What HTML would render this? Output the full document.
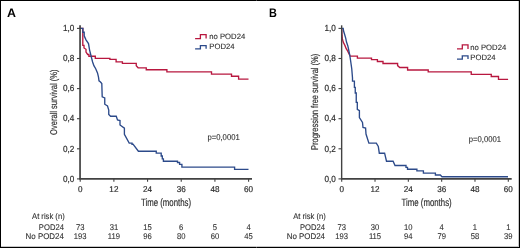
<!DOCTYPE html>
<html><head><meta charset="utf-8"><style>
html,body{margin:0;padding:0;background:#fff;}
body{width:520px;height:248px;overflow:hidden;}
svg{display:block;will-change:transform;}
text{font-family:"Liberation Sans",sans-serif;fill:#2e2e2e;text-rendering:geometricPrecision;stroke:#2e2e2e;stroke-width:0.1px;}
.b{stroke-width:0.18px;}
.m{stroke-width:0.2px;}
.L{font-weight:bold;fill:#000;stroke:none;}
</style></head><body>
<svg width="520" height="248" viewBox="0 0 520 248">
<rect x="0" y="0" width="520" height="248" fill="#fff"/>
<path d="M80.2 28.4 H82.8 V45.3 H84 V48 L86 49.3 V52.1 L87.7 54.5 H88.9 V56.2 H95.3 V58.4 H109.9 V59.4 H116.1 V61.9 H122.4 V63.3 H136.25 V65.8 L138.1 67.8 H146.25 V69.7 H166.9 V71.9 H211.5 V74.1 H231.5 V76.25 H238.6 V79.1 H248.5" fill="none" stroke="#b8173f" stroke-width="1.35"/>
<path d="M80.2 28.4 H82.9 V32.2 H84.2 V35.8 L86 39.8 L88.5 43.6 L89.6 50.1 L90.7 54.5 L92.6 62 L93.9 65.7 L95.7 68.7 L97.5 72.9 L98.5 77.2 L99 80.8 L100.5 82 L101.8 83.6 L102.2 96.75 L104.75 98 V104.25 L107.5 106 L108.75 110 V114.4 L110.6 116.25 H116.25 L117.5 120 L120 120.6 V125 L124.4 128.1 V134.4 L129.2 143.1 H132 V144.2 H133 L138.4 151.25 H156.25 V153.1 H161.2 V156 H162.3 V158.8 H163.4 V161.25 H177.5 V162.5 H179.6 V164.4 H181.9 V167.1 H234.6 V169.4 H248.5" fill="none" stroke="#2c4a8a" stroke-width="1.35"/>
<path d="M80.05 25.3 V178.95" fill="none" stroke="#424242" stroke-width="1.7"/>
<path d="M79.20 178.95 H252.00" fill="none" stroke="#424242" stroke-width="1.7"/>
<path d="M77.00 28.4 H80.2" stroke="#424242" stroke-width="1.1"/>
<path d="M77.00 58.5 H80.2" stroke="#424242" stroke-width="1.1"/>
<path d="M77.00 88.6 H80.2" stroke="#424242" stroke-width="1.1"/>
<path d="M77.00 118.7 H80.2" stroke="#424242" stroke-width="1.1"/>
<path d="M77.00 148.8 H80.2" stroke="#424242" stroke-width="1.1"/>
<path d="M77.00 178.9 H80.2" stroke="#424242" stroke-width="1.1"/>
<path d="M80.20 178.9 V181.8" stroke="#424242" stroke-width="1.1"/>
<path d="M113.88 178.9 V181.8" stroke="#424242" stroke-width="1.1"/>
<path d="M147.56 178.9 V181.8" stroke="#424242" stroke-width="1.1"/>
<path d="M181.24 178.9 V181.8" stroke="#424242" stroke-width="1.1"/>
<path d="M214.92 178.9 V181.8" stroke="#424242" stroke-width="1.1"/>
<path d="M248.60 178.9 V181.8" stroke="#424242" stroke-width="1.1"/>
<text transform="translate(74.30 31.15) scale(0.93 1)" font-size="8.8" text-anchor="end" class="m">1,0</text>
<text transform="translate(74.30 61.25) scale(0.93 1)" font-size="8.8" text-anchor="end" class="m">0,8</text>
<text transform="translate(74.30 91.35) scale(0.93 1)" font-size="8.8" text-anchor="end" class="m">0,6</text>
<text transform="translate(74.30 121.45) scale(0.93 1)" font-size="8.8" text-anchor="end" class="m">0,4</text>
<text transform="translate(74.30 151.55) scale(0.93 1)" font-size="8.8" text-anchor="end" class="m">0,2</text>
<text transform="translate(74.30 181.65) scale(0.93 1)" font-size="8.8" text-anchor="end" class="m">0,0</text>
<text transform="translate(80.20 192.10) scale(0.97 1)" font-size="8.4" text-anchor="middle" class="m">0</text>
<text transform="translate(113.88 192.10) scale(0.97 1)" font-size="8.4" text-anchor="middle" class="m">12</text>
<text transform="translate(147.56 192.10) scale(0.97 1)" font-size="8.4" text-anchor="middle" class="m">24</text>
<text transform="translate(181.24 192.10) scale(0.97 1)" font-size="8.4" text-anchor="middle" class="m">36</text>
<text transform="translate(214.92 192.10) scale(0.97 1)" font-size="8.4" text-anchor="middle" class="m">48</text>
<text transform="translate(248.60 192.10) scale(0.97 1)" font-size="8.4" text-anchor="middle" class="m">60</text>
<path d="M341.7 28.4 L342 35.7 L342.4 38.9 L343.2 42.1 L344.9 45.4 L346.2 48.7 L347.6 50.9 L349.8 55.3 L350.4 56.1 H357.4 V58.1 H371.5 V59.6 H377.4 V61.5 H383 V63.5 H397.6 V65.6 L399.75 67.5 H407.6 V70 H428.2 V71.9 H471.25 V74.4 H491.25 V76.5 H498.5 V79.4 H508.1" fill="none" stroke="#b8173f" stroke-width="1.35"/>
<path d="M341.7 28.4 H343.2 L343.5 30.8 L344.5 34 L345.7 38.1 L346.5 42.1 L347.7 45.4 L348.3 48 L349.8 55.3 L350.5 60 L351.75 68.75 L352.5 78 V81.1 H354.4 V87.4 H355.25 V93 H356.25 V102.4 H357.3 V109.4 L359.4 110.6 V117.5 L362.5 122.5 L363 127.5 L365.6 128.1 L366 134 L368.9 143.1 H376.3 L378.3 146.5 L379.3 153.2 H384.6 L386.5 161.25 H393.1 L395 165.5 H406 V167.3 H407.5 V169.2 H416.9 V170.9 H423.4 V173.1 H435.4 V175 H440.3 L442 176.7 H508" fill="none" stroke="#2c4a8a" stroke-width="1.35"/>
<path d="M341.65 25.3 V178.95" fill="none" stroke="#424242" stroke-width="1.4"/>
<path d="M340.95 178.95 H511.70" fill="none" stroke="#424242" stroke-width="1.7"/>
<path d="M338.50 28.4 H341.7" stroke="#424242" stroke-width="1.1"/>
<path d="M338.50 58.5 H341.7" stroke="#424242" stroke-width="1.1"/>
<path d="M338.50 88.6 H341.7" stroke="#424242" stroke-width="1.1"/>
<path d="M338.50 118.7 H341.7" stroke="#424242" stroke-width="1.1"/>
<path d="M338.50 148.8 H341.7" stroke="#424242" stroke-width="1.1"/>
<path d="M338.50 178.9 H341.7" stroke="#424242" stroke-width="1.1"/>
<path d="M341.70 178.9 V181.8" stroke="#424242" stroke-width="1.1"/>
<path d="M375.02 178.9 V181.8" stroke="#424242" stroke-width="1.1"/>
<path d="M408.34 178.9 V181.8" stroke="#424242" stroke-width="1.1"/>
<path d="M441.66 178.9 V181.8" stroke="#424242" stroke-width="1.1"/>
<path d="M474.98 178.9 V181.8" stroke="#424242" stroke-width="1.1"/>
<path d="M508.30 178.9 V181.8" stroke="#424242" stroke-width="1.1"/>
<text transform="translate(335.80 31.15) scale(0.93 1)" font-size="8.8" text-anchor="end" class="m">1,0</text>
<text transform="translate(335.80 61.25) scale(0.93 1)" font-size="8.8" text-anchor="end" class="m">0,8</text>
<text transform="translate(335.80 91.35) scale(0.93 1)" font-size="8.8" text-anchor="end" class="m">0,6</text>
<text transform="translate(335.80 121.45) scale(0.93 1)" font-size="8.8" text-anchor="end" class="m">0,4</text>
<text transform="translate(335.80 151.55) scale(0.93 1)" font-size="8.8" text-anchor="end" class="m">0,2</text>
<text transform="translate(335.80 181.65) scale(0.93 1)" font-size="8.8" text-anchor="end" class="m">0,0</text>
<text transform="translate(341.70 192.10) scale(0.97 1)" font-size="8.4" text-anchor="middle" class="m">0</text>
<text transform="translate(375.02 192.10) scale(0.97 1)" font-size="8.4" text-anchor="middle" class="m">12</text>
<text transform="translate(408.34 192.10) scale(0.97 1)" font-size="8.4" text-anchor="middle" class="m">24</text>
<text transform="translate(441.66 192.10) scale(0.97 1)" font-size="8.4" text-anchor="middle" class="m">36</text>
<text transform="translate(474.98 192.10) scale(0.97 1)" font-size="8.4" text-anchor="middle" class="m">48</text>
<text transform="translate(508.30 192.10) scale(0.97 1)" font-size="8.4" text-anchor="middle" class="m">60</text>
<text x="7.1" y="16.9" font-size="12.4" class="L">A</text>
<text transform="translate(268.9 16.9) scale(0.88 1)" font-size="12.4" class="L">B</text>
<text transform="translate(57.1 102.2) rotate(-90)" text-anchor="middle" font-size="9.8" textLength="65.6" lengthAdjust="spacingAndGlyphs" class="b">Overall survival (%)</text>
<text transform="translate(317.8 101.9) rotate(-90)" text-anchor="middle" font-size="9.8" textLength="96.2" lengthAdjust="spacingAndGlyphs" class="b">Progression free survival (%)</text>
<text transform="translate(166.00 205.50) scale(0.738 1)" font-size="10.6" text-anchor="middle" class="b">Time (months)</text>
<text transform="translate(426.60 205.50) scale(0.738 1)" font-size="10.6" text-anchor="middle" class="b">Time (months)</text>
<path d="M195.1 38.6 H200.4 V34.6 H206.1 V38.6" fill="none" stroke="#b8173f" stroke-width="1.3"/>
<path d="M195.1 48.8 H200.4 V45.6 H206.1 V48.8" fill="none" stroke="#2c4a8a" stroke-width="1.3"/>
<text x="209.30" y="39.40" font-size="7.7">no POD24</text>
<text x="209.30" y="49.40" font-size="7.7">POD24</text>
<path d="M457.0 48.9 H462.3 V44.9 H468.0 V48.9" fill="none" stroke="#b8173f" stroke-width="1.3"/>
<path d="M457.0 59.099999999999994 H462.3 V55.9 H468.0 V59.099999999999994" fill="none" stroke="#2c4a8a" stroke-width="1.3"/>
<text x="470.30" y="49.70" font-size="7.7">no POD24</text>
<text x="470.30" y="59.70" font-size="7.7">POD24</text>
<text transform="translate(207.40 139.70) scale(0.92 1)" font-size="8.4">p=0,0001</text>
<text transform="translate(468.80 142.30) scale(0.92 1)" font-size="8.4">p=0,0001</text>
<text transform="translate(64.70 218.50) scale(0.92 1)" font-size="8.3" text-anchor="end">At risk (n)</text>
<text transform="translate(63.90 229.60) scale(0.92 1)" font-size="8.3" text-anchor="end">POD24</text>
<text transform="translate(63.90 238.90) scale(0.955 1)" font-size="8.3" text-anchor="end">No POD24</text>
<text transform="translate(80.20 229.60) scale(0.92 1)" font-size="8.3" text-anchor="middle">73</text>
<text transform="translate(80.20 238.90) scale(0.92 1)" font-size="8.3" text-anchor="middle">193</text>
<text transform="translate(113.88 229.60) scale(0.92 1)" font-size="8.3" text-anchor="middle">31</text>
<text transform="translate(113.88 238.90) scale(0.92 1)" font-size="8.3" text-anchor="middle">119</text>
<text transform="translate(147.56 229.60) scale(0.92 1)" font-size="8.3" text-anchor="middle">15</text>
<text transform="translate(147.56 238.90) scale(0.92 1)" font-size="8.3" text-anchor="middle">96</text>
<text transform="translate(181.24 229.60) scale(0.92 1)" font-size="8.3" text-anchor="middle">6</text>
<text transform="translate(181.24 238.90) scale(0.92 1)" font-size="8.3" text-anchor="middle">80</text>
<text transform="translate(214.92 229.60) scale(0.92 1)" font-size="8.3" text-anchor="middle">5</text>
<text transform="translate(214.92 238.90) scale(0.92 1)" font-size="8.3" text-anchor="middle">60</text>
<text transform="translate(248.60 229.60) scale(0.92 1)" font-size="8.3" text-anchor="middle">4</text>
<text transform="translate(248.60 238.90) scale(0.92 1)" font-size="8.3" text-anchor="middle">45</text>
<text transform="translate(325.80 218.50) scale(0.92 1)" font-size="8.3" text-anchor="end">At risk (n)</text>
<text transform="translate(325.00 229.60) scale(0.92 1)" font-size="8.3" text-anchor="end">POD24</text>
<text transform="translate(325.00 238.90) scale(0.955 1)" font-size="8.3" text-anchor="end">No POD24</text>
<text transform="translate(341.70 229.60) scale(0.92 1)" font-size="8.3" text-anchor="middle">73</text>
<text transform="translate(341.70 238.90) scale(0.92 1)" font-size="8.3" text-anchor="middle">193</text>
<text transform="translate(375.02 229.60) scale(0.92 1)" font-size="8.3" text-anchor="middle">30</text>
<text transform="translate(375.02 238.90) scale(0.92 1)" font-size="8.3" text-anchor="middle">115</text>
<text transform="translate(408.34 229.60) scale(0.92 1)" font-size="8.3" text-anchor="middle">10</text>
<text transform="translate(408.34 238.90) scale(0.92 1)" font-size="8.3" text-anchor="middle">94</text>
<text transform="translate(441.66 229.60) scale(0.92 1)" font-size="8.3" text-anchor="middle">4</text>
<text transform="translate(441.66 238.90) scale(0.92 1)" font-size="8.3" text-anchor="middle">79</text>
<text transform="translate(474.98 229.60) scale(0.92 1)" font-size="8.3" text-anchor="middle">1</text>
<text transform="translate(474.98 238.90) scale(0.92 1)" font-size="8.3" text-anchor="middle">58</text>
<text transform="translate(508.30 229.60) scale(0.92 1)" font-size="8.3" text-anchor="middle">1</text>
<text transform="translate(508.30 238.90) scale(0.92 1)" font-size="8.3" text-anchor="middle">39</text>
<path d="M518.5 0 V247 M0 246.5 H519" stroke="#c8c8c8" stroke-width="1"/>
<path d="M0.5 0 V248 M0 0.5 H520 M519.5 0 V248 M0 247.5 H520" stroke="#000" stroke-width="1"/>
</svg>
</body></html>
